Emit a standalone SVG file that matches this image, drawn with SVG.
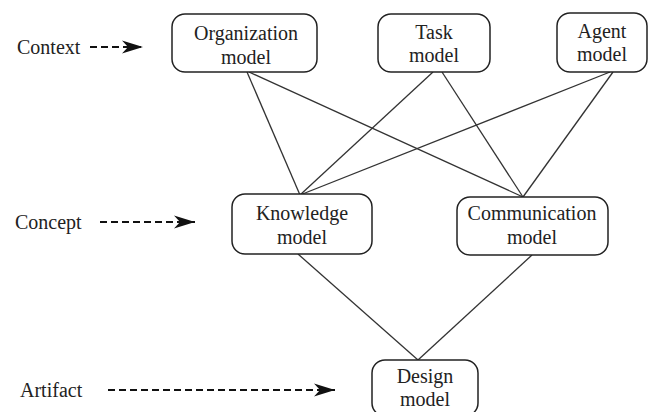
<svg xmlns="http://www.w3.org/2000/svg" width="649" height="412" viewBox="0 0 649 412">
<defs>
<style>
.box{fill:#fff;stroke:#222;stroke-width:1.5}
.t{font-family:"Liberation Serif","Times New Roman",serif;font-size:20px;fill:#222;text-anchor:middle}
.lbl{font-family:"Liberation Serif","Times New Roman",serif;font-size:20px;fill:#222}
.c{stroke:#333;stroke-width:1.3;fill:none}
.d{stroke:#111;stroke-width:1.8;stroke-dasharray:7 4;fill:none}
</style>
<marker id="ah" markerWidth="24" markerHeight="16" refX="21" refY="8" orient="auto" markerUnits="userSpaceOnUse">
<path d="M0,1.5 L21,8 L0,14.5 L6,8 Z" fill="#111"/>
</marker>
</defs>
<rect width="649" height="412" fill="#fff"/>
<g id="connectors">
<line class="c" x1="247" y1="72" x2="300" y2="195"/>
<line class="c" x1="249" y1="72" x2="523" y2="197"/>
<line class="c" x1="433" y1="72" x2="300" y2="195"/>
<line class="c" x1="442" y1="72" x2="523" y2="197"/>
<line class="c" x1="610" y1="72" x2="300" y2="195"/>
<line class="c" x1="613" y1="72" x2="523" y2="197"/>
<line class="c" x1="298" y1="254" x2="418" y2="360"/>
<line class="c" x1="532" y1="255" x2="418" y2="360"/>
</g>
<g id="context-label">
<text class="lbl" x="17" y="54">Context</text>
<line class="d" x1="90" y1="47" x2="143" y2="47" marker-end="url(#ah)"/>
</g>
<g id="concept-label">
<text class="lbl" x="15" y="229">Concept</text>
<line class="d" x1="100" y1="222" x2="195" y2="222" marker-end="url(#ah)"/>
</g>
<g id="artifact-label">
<text class="lbl" x="20" y="397">Artifact</text>
<line class="d" x1="108" y1="390" x2="335" y2="390" marker-end="url(#ah)"/>
</g>
<g id="organization">
<rect class="box" x="172" y="14" width="145" height="58" rx="13"/>
<text class="t" x="246" y="40">Organization</text>
<text class="t" x="246" y="64">model</text>
</g>
<g id="task">
<rect class="box" x="378" y="14" width="112" height="58" rx="13"/>
<text class="t" x="434" y="39">Task</text>
<text class="t" x="434" y="62">model</text>
</g>
<g id="agent">
<rect class="box" x="557" y="13" width="90" height="59" rx="13"/>
<text class="t" x="602" y="38">Agent</text>
<text class="t" x="602" y="61">model</text>
</g>
<g id="knowledge">
<rect class="box" x="232" y="194" width="140" height="60" rx="13"/>
<text class="t" x="302" y="220">Knowledge</text>
<text class="t" x="302" y="244">model</text>
</g>
<g id="communication">
<rect class="box" x="457" y="197" width="151" height="58" rx="13"/>
<text class="t" x="532" y="220">Communication</text>
<text class="t" x="532" y="244">model</text>
</g>
<g id="design">
<rect class="box" x="372" y="360" width="106" height="56" rx="13"/>
<text class="t" x="425" y="383">Design</text>
<text class="t" x="425" y="406">model</text>
</g>
</svg>
